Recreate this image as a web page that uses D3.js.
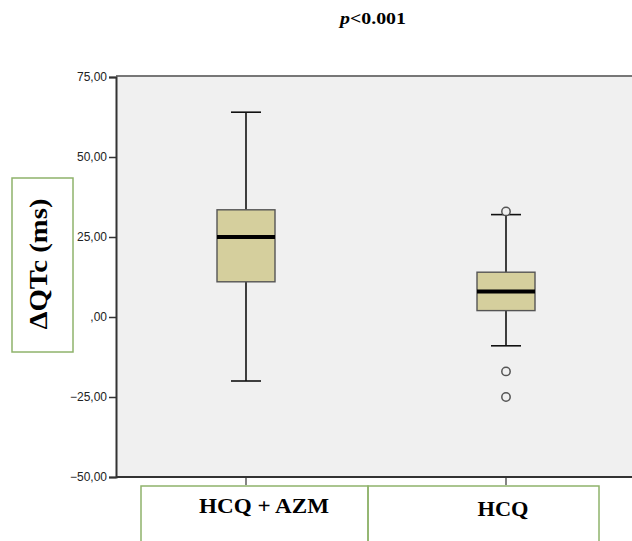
<!DOCTYPE html>
<html lang="en">
<head>
<meta charset="UTF-8">
<title>ΔQTc boxplot</title>
<script src="https://d3js.org/d3.v7.min.js"></script>
<style>
  body { margin: 0; background: #fff; }
  svg { display: block; }
  .tick text { font-family: "Liberation Sans", Arial, sans-serif; font-size: 12px; fill: #222; }
</style>
</head>
<body>
<svg id="chart" width="632" height="541"></svg>
<script>
// data
const groups = ["HCQ + AZM", "HCQ"];
const whiskerLow = [-20, -9];
const q1 = [11, 2];
const median = [25, 8];
const q3 = [33.5, 14];
const whiskerHigh = [64, 32];
const outliers = [[], [33, -17, -25]];
const yTicks = [-50, -25, 0, 25, 50, 75];

const width = 632, height = 541;
const plotLeft = 116, plotRight = 636, plotTop = 77, plotBottom = 477;

const svg = d3.select("#chart");

const x = d3.scaleBand().domain(groups).range([plotLeft, plotRight]);
const y = d3.scaleLinear().domain([-50, 75]).range([plotBottom, plotTop]);

const boxes = groups.map((g, i) => ({
  g, lo: whiskerLow[i], q1: q1[i], med: median[i], q3: q3[i], hi: whiskerHigh[i], out: outliers[i]
}));

// plot background
svg.append("rect")
  .attr("x", plotLeft).attr("y", plotTop)
  .attr("width", plotRight - plotLeft).attr("height", plotBottom - plotTop)
  .attr("fill", "#f0f0f0");

// top border
svg.append("line")
  .attr("x1", plotLeft).attr("x2", plotRight)
  .attr("y1", plotTop - 1).attr("y2", plotTop - 1)
  .attr("stroke", "#777").attr("stroke-width", 2);

// title
const title = svg.append("text")
  .attr("x", 373).attr("y", 24)
  .attr("text-anchor", "middle")
  .attr("textLength", 66).attr("lengthAdjust", "spacingAndGlyphs")
  .style("font-family", "'Liberation Serif', 'Times New Roman', serif")
  .style("font-weight", "bold")
  .style("font-size", "17px");
title.append("tspan").style("font-style", "italic").text("p");
title.append("tspan").text("<0.001");

// boxes
const boxW = 58, capW = 30;
const gBox = svg.append("g");
boxes.forEach(d => {
  const cx = x(d.g) + x.bandwidth() / 2;
  // whiskers
  gBox.append("line")
    .attr("x1", cx).attr("x2", cx)
    .attr("y1", y(d.hi)).attr("y2", y(d.q3))
    .attr("stroke", "#111").attr("stroke-width", 1.6);
  gBox.append("line")
    .attr("x1", cx).attr("x2", cx)
    .attr("y1", y(d.q1)).attr("y2", y(d.lo))
    .attr("stroke", "#111").attr("stroke-width", 1.6);
  [d.hi, d.lo].forEach(v => {
    gBox.append("line")
      .attr("x1", cx - capW / 2).attr("x2", cx + capW / 2)
      .attr("y1", y(v)).attr("y2", y(v))
      .attr("stroke", "#111").attr("stroke-width", 1.6);
  });
  // box
  gBox.append("rect")
    .attr("x", cx - boxW / 2).attr("width", boxW)
    .attr("y", y(d.q3)).attr("height", y(d.q1) - y(d.q3))
    .attr("fill", "#d5cf9d").attr("stroke", "#555").attr("stroke-width", 1.4);
  // median
  gBox.append("line")
    .attr("x1", cx - boxW / 2).attr("x2", cx + boxW / 2)
    .attr("y1", y(d.med)).attr("y2", y(d.med))
    .attr("stroke", "#000").attr("stroke-width", 4);
  // outliers
  gBox.selectAll(null)
    .data(d.out)
    .enter().append("circle")
    .attr("cx", cx).attr("cy", v => y(v)).attr("r", 4.2)
    .attr("fill", "#f0f0f0").attr("stroke", "#555").attr("stroke-width", 1.5);
});

// y axis
const fmt = v => v === 0 ? ",00" : d3.format(".2f")(v).replace(".", ",");
const yAxis = svg.append("g")
  .attr("transform", `translate(${plotLeft},0)`)
  .call(d3.axisLeft(y).tickValues(yTicks).tickFormat(fmt).tickSize(7).tickPadding(2));
yAxis.select(".domain").attr("stroke", "#333").attr("stroke-width", 2);
yAxis.selectAll(".tick line").attr("stroke", "#333").attr("stroke-width", 1.5);

// x axis
const xAxis = svg.append("g")
  .attr("transform", `translate(0,${plotBottom})`)
  .call(d3.axisBottom(x).tickSize(8).tickFormat(""));
xAxis.select(".domain").attr("stroke", "#333").attr("stroke-width", 2)
  .attr("d", `M${plotLeft},0H${plotRight}`);
xAxis.selectAll(".tick line").attr("stroke", "#333").attr("stroke-width", 1.2);

// category label boxes
const labelBoxes = [[141, 368], [368, 599]];
labelBoxes.forEach(b => {
  svg.append("rect")
    .attr("x", b[0]).attr("y", 486)
    .attr("width", b[1] - b[0]).attr("height", 80)
    .attr("fill", "none").attr("stroke", "#8fb36b").attr("stroke-width", 1.5);
});
const labelX = [264, 503], labelY = [513, 516], labelLen = [130, 51];
groups.forEach((g, i) => {
  svg.append("text")
    .attr("x", labelX[i]).attr("y", labelY[i])
    .attr("text-anchor", "middle")
    .attr("textLength", labelLen[i]).attr("lengthAdjust", "spacingAndGlyphs")
    .style("font-family", "'Liberation Serif', 'Times New Roman', serif")
    .style("font-weight", "bold")
    .style("font-size", "20px")
    .text(g);
});

// y label box
svg.append("rect")
  .attr("x", 12).attr("y", 178)
  .attr("width", 61).attr("height", 174)
  .attr("fill", "none").attr("stroke", "#8fb36b").attr("stroke-width", 1.5);
svg.append("text")
  .attr("transform", "translate(47,264) rotate(-90)")
  .attr("text-anchor", "middle")
  .attr("textLength", 131).attr("lengthAdjust", "spacingAndGlyphs")
  .style("font-family", "'Liberation Serif', 'Times New Roman', serif")
  .style("font-weight", "bold")
  .style("font-size", "26px")
  .text("ΔQTc (ms)");
</script>
</body>
</html>
